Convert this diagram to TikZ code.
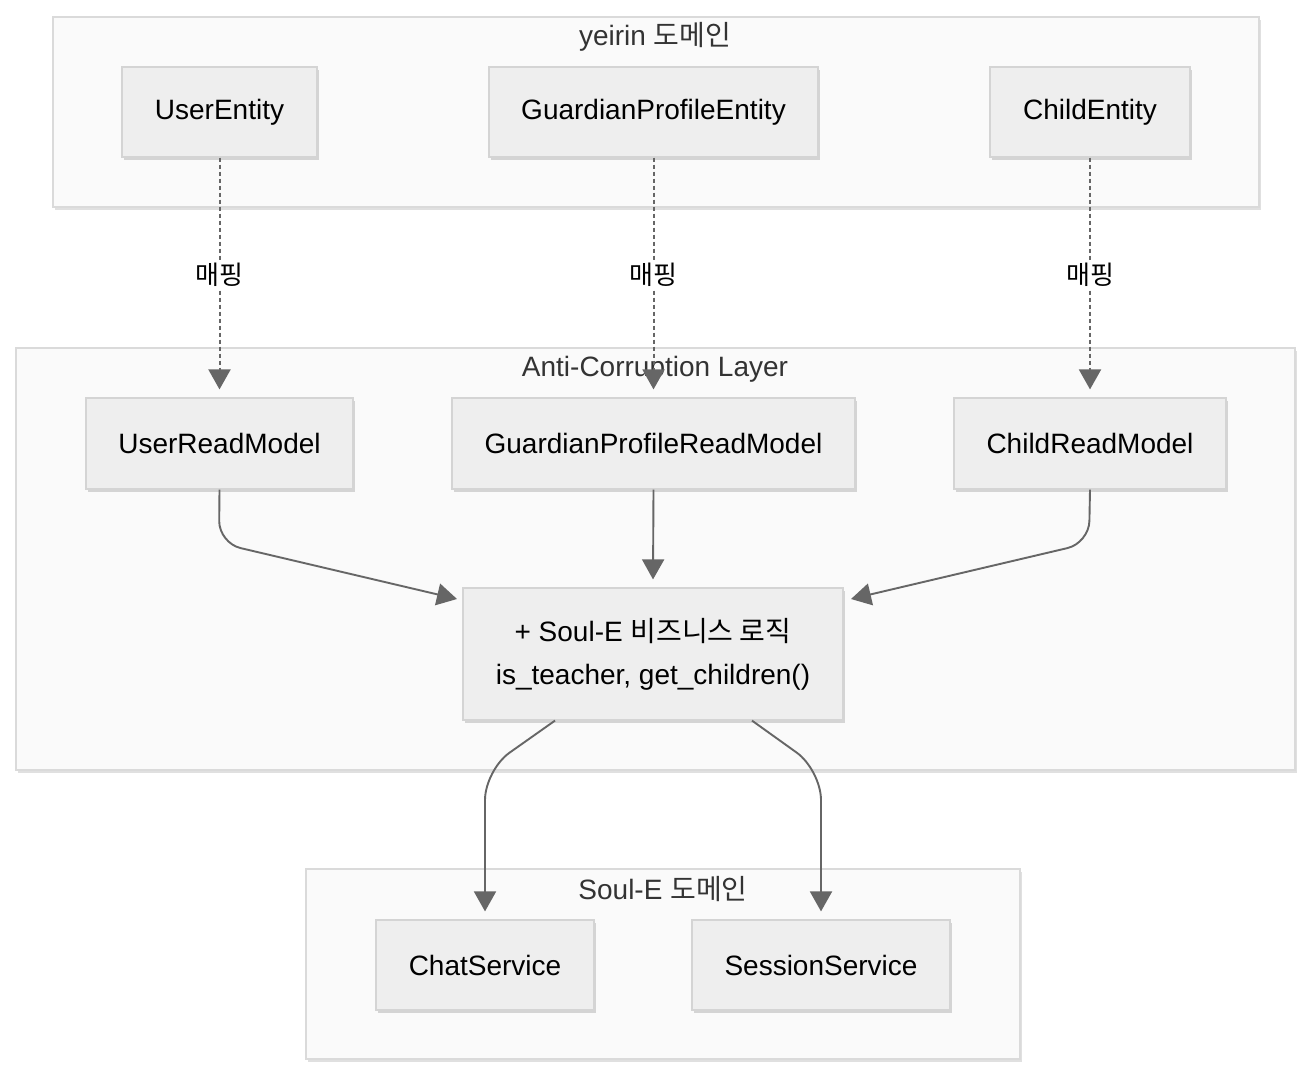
\documentclass[tikz,border=0pt]{standalone}
\usepackage{fontspec}
\setmainfont{Liberation Sans}
\newfontfamily\kr{Noto Sans CJK KR}
\usetikzlibrary{arrows.meta,shadows,calc}
\definecolor{nodefill}{HTML}{EEEEEE}
\definecolor{nodeline}{HTML}{D4D4D4}
\definecolor{grpfill}{HTML}{FAFAFA}
\definecolor{grpline}{HTML}{DADADA}
\definecolor{edgecol}{HTML}{666666}
\definecolor{titlecol}{HTML}{333333}
\begin{document}
\begin{tikzpicture}[x=1pt,y=-1pt,
  grp/.style={draw=grpline, fill=grpfill, line width=1.5pt,
    drop shadow={shadow xshift=1.5pt, shadow yshift=-2.5pt, opacity=0.12, fill=black}},
  ent/.style={draw=nodeline, fill=nodefill, line width=1.2pt, inner sep=0pt,
    font=\fontsize{28}{32}\selectfont, text=black,
    drop shadow={shadow xshift=1.5pt, shadow yshift=-3pt, opacity=0.15, fill=black}},
  grptitle/.style={font=\fontsize{28}{32}\selectfont, text=titlecol, inner sep=0pt},
  conn/.style={draw=edgecol, line width=1.9pt, -{Triangle[width=22pt,length=20pt]}},
  mapconn/.style={conn, line width=2pt, dash pattern=on 4pt off 3pt},
  maplbl/.style={fill=white, font=\kr\fontsize{26}{30}\selectfont, text=black, inner sep=3pt}
]
\useasboundingbox (0,0) rectangle (1311,1076);
\fill[white] (0,0) rectangle (1311,1076);

% groups
\node[grp, minimum width=1206, minimum height=190, inner sep=0pt] (gy) at (656,112) {};
\node[grp, minimum width=1279, minimum height=422, inner sep=0pt] (ga) at (655.5,559) {};
\node[grp, minimum width=714, minimum height=190, inner sep=0pt] (gs) at (663,964) {};

\node[grptitle] (ty) at (655,37) {yeirin {\kr 도메인}};
\node[grptitle] (ta) at (655,369) {Anti-Corruption Layer};
\node[grptitle] (ts) at (663,889) {Soul-E {\kr 도메인}};

% nodes
\node[ent, minimum width=195, minimum height=90] (ue) at (219.5,112) {UserEntity};
\node[ent, minimum width=329, minimum height=90] (ge) at (653.5,112) {GuardianProfileEntity};
\node[ent, minimum width=200, minimum height=90] (ce) at (1090,112) {ChildEntity};

\node[ent, minimum width=267, minimum height=91] (ur) at (219.5,443.5) {UserReadModel};
\node[ent, minimum width=403, minimum height=91] (gr) at (653.5,443.5) {GuardianProfileReadModel};
\node[ent, minimum width=272, minimum height=91] (cr) at (1090,443.5) {ChildReadModel};

\node[ent, minimum width=380, minimum height=132, align=center] (core) at (653,654)
  {+ Soul-E {\kr 비즈니스 로직}\\[11pt]is\_teacher, get\_children()};

\node[ent, minimum width=218, minimum height=90] (chat) at (485,965) {ChatService};
\node[ent, minimum width=258, minimum height=90] (sess) at (821,965) {SessionService};

% coordinates for tips
\coordinate (tu) at ([yshift=8pt]ur.north);
\coordinate (tg) at ([yshift=8pt]gr.north);
\coordinate (tc) at ([yshift=8pt]cr.north);
\coordinate (tl) at (457,599);
\coordinate (tm) at ([yshift=8pt]core.north);
\coordinate (tr) at (851,599);
\coordinate (tch) at ([yshift=8pt]chat.north);
\coordinate (tse) at ([yshift=8pt]sess.north);
\coordinate (bl) at (219,543);
\coordinate (br) at (1089,543);
\coordinate (sl) at ([xshift=-98pt]core.south);
\coordinate (sr) at ([xshift=99pt]core.south);
\coordinate (kl) at (485,770);
\coordinate (kr) at (821,770);

% mapping edges
\draw[mapconn] (ue.south) -- node[maplbl, pos=0.506] (l1) {매핑} (tu);
\draw[mapconn] (ge.south) -- node[maplbl, pos=0.506] (l2) {매핑} (tg);
\draw[mapconn] (ce.south) -- node[maplbl, pos=0.506] (l3) {매핑} (tc);

% to core
\draw[conn, rounded corners=22pt] (ur.south) -- (bl) -- (tl);
\draw[conn] (gr.south) -- (tm);
\draw[conn, rounded corners=22pt] (cr.south) -- (br) -- (tr);

% from core
\draw[conn, rounded corners=30pt] (sl) -- (kl) -- (tch);
\draw[conn, rounded corners=30pt] (sr) -- (kr) -- (tse);
\end{tikzpicture}
\end{document}
